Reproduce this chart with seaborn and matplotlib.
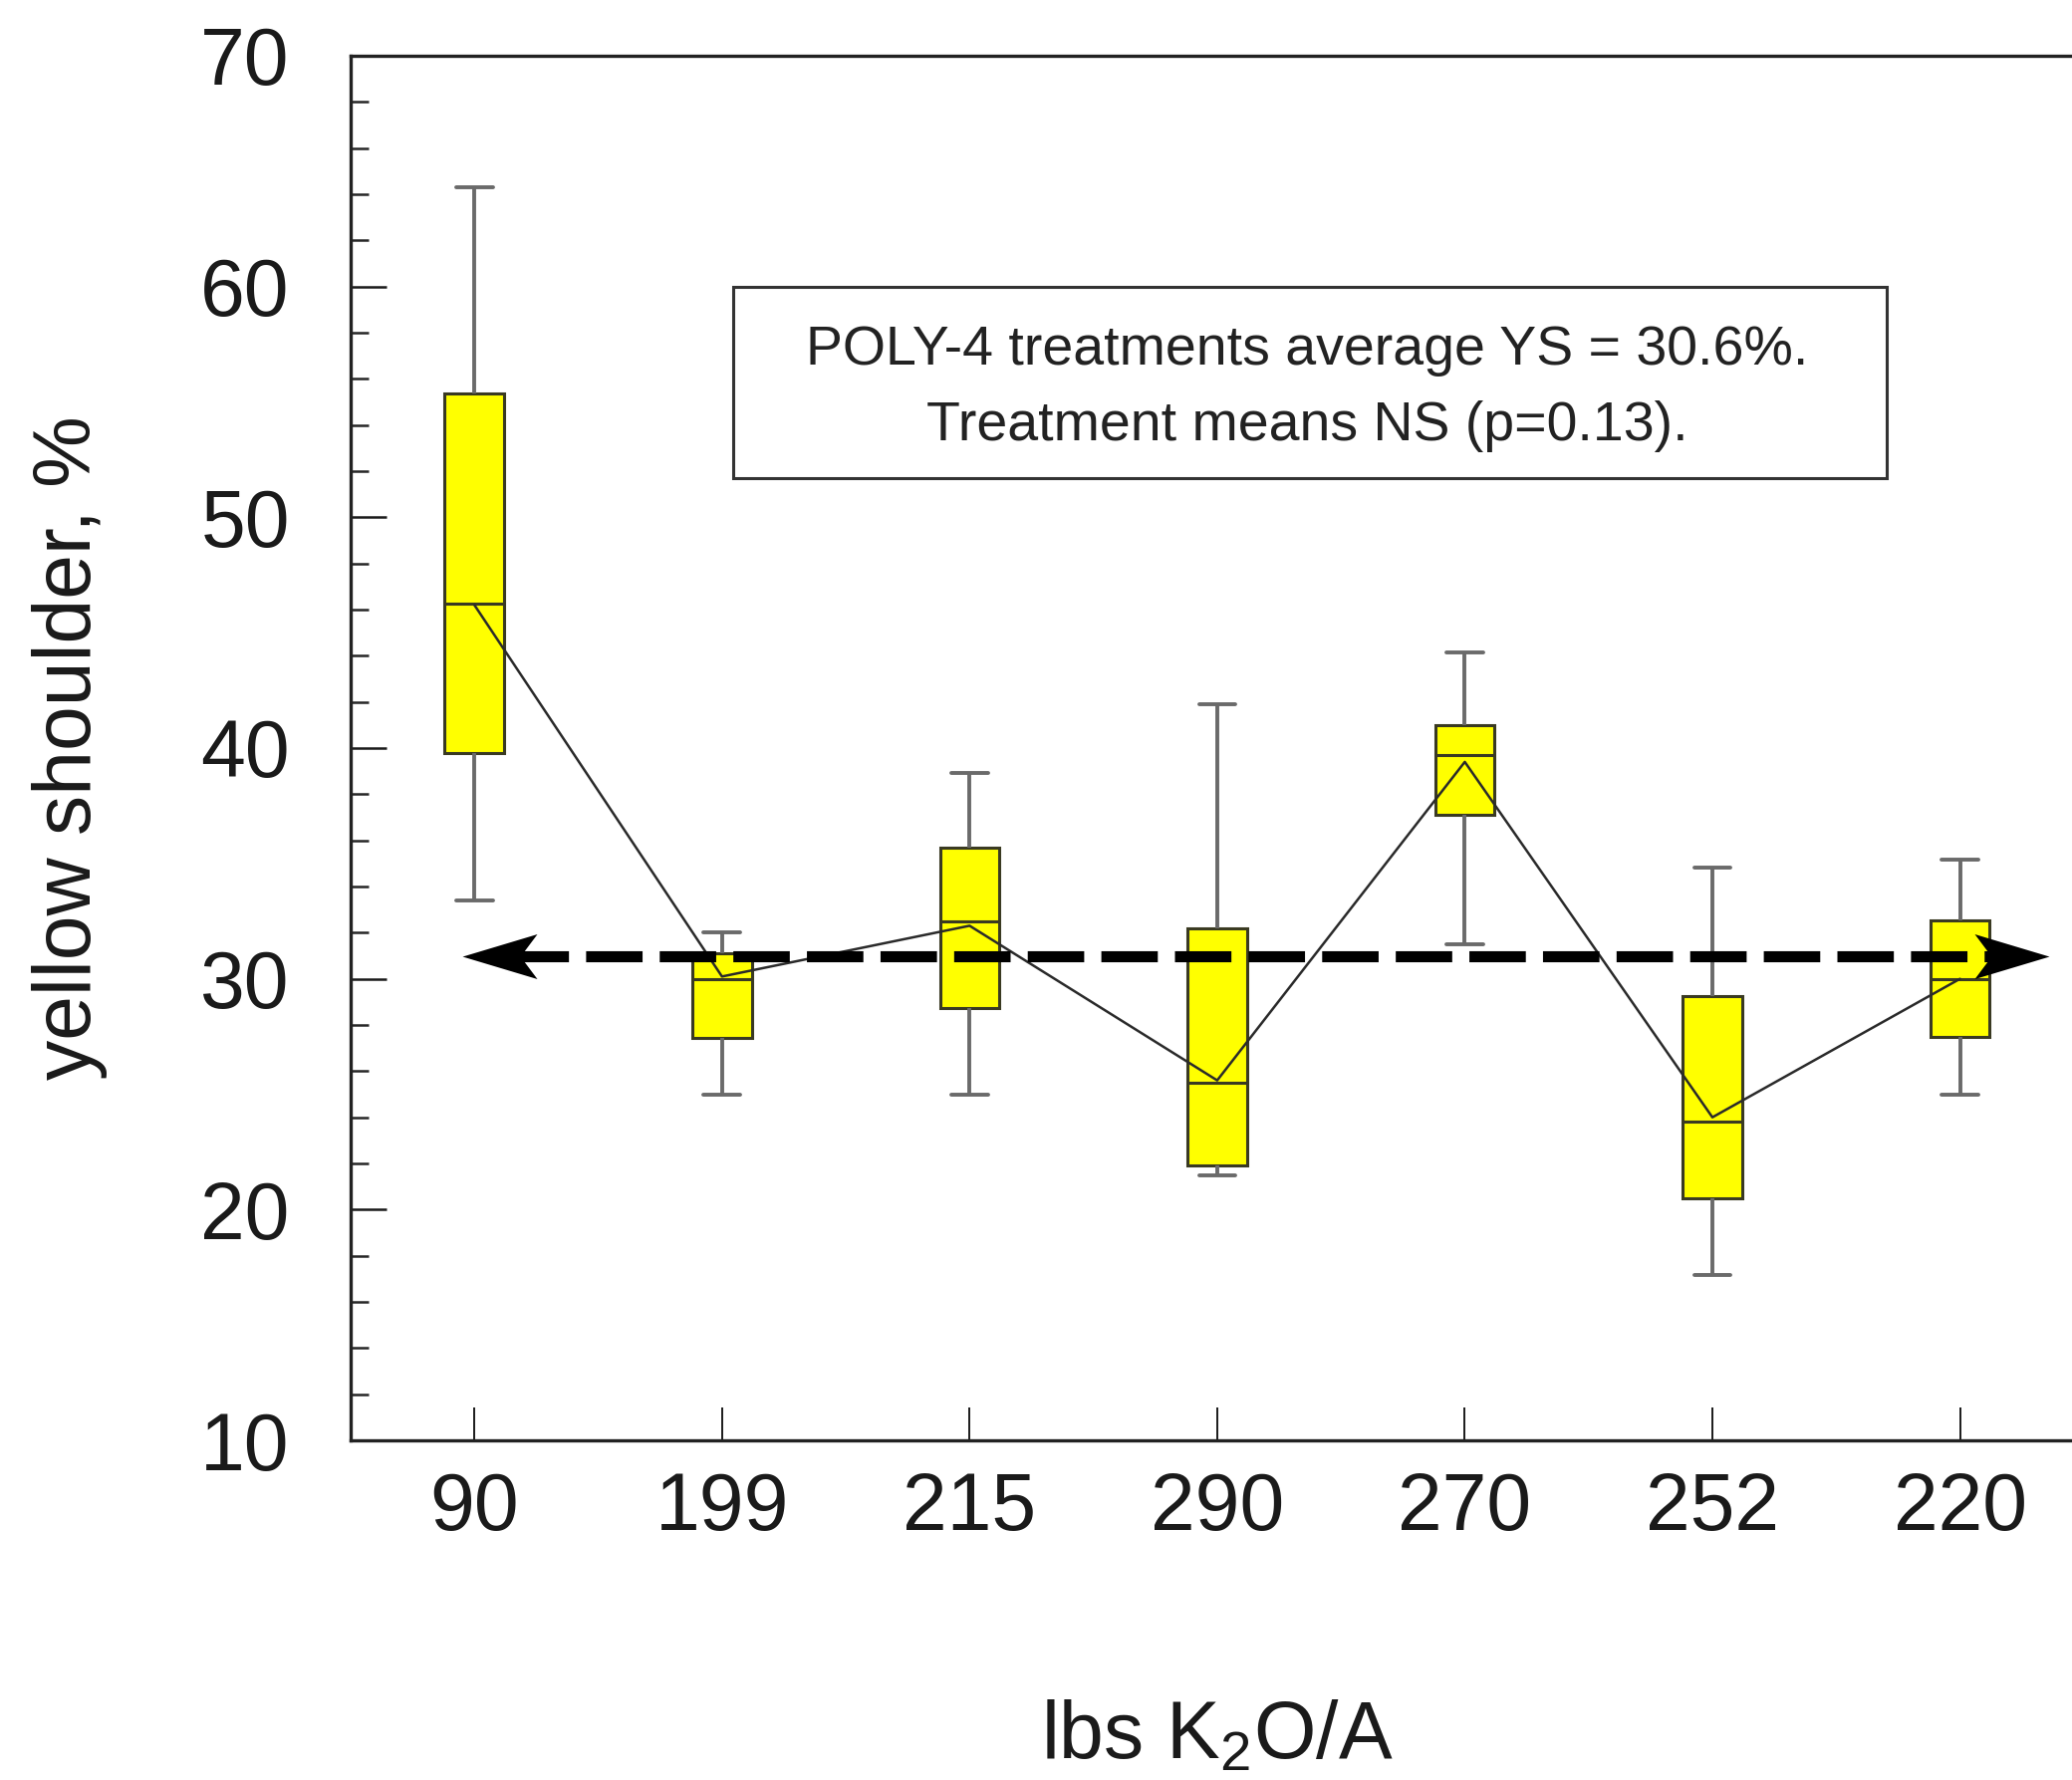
import numpy as np
import pandas as pd
import matplotlib
matplotlib.use("Agg")
import matplotlib.pyplot as plt
from matplotlib.path import Path
from matplotlib.patches import Rectangle
from matplotlib.ticker import MultipleLocator
import seaborn as sns

# ---------------- data ----------------
rates = ["90", "199", "215", "290", "270", "252", "220"]
whisker_low = [33.4, 25.0, 25.0, 21.5, 31.5, 17.15, 25.0]
q1 = [39.8, 27.45, 28.75, 21.9, 37.1, 20.5, 27.5]
medians = [46.25, 30.0, 32.5, 25.5, 39.7, 23.8, 30.0]
q3 = [55.35, 31.1, 35.7, 32.2, 41.0, 29.25, 32.55]
whisker_high = [64.3, 32.0, 38.9, 41.9, 44.15, 34.8, 35.15]
means = [46.2, 30.1, 32.3, 25.6, 39.4, 24.0, 30.0]
overall_level = 31.0
arrow_x = [-0.05, 6.36]
y_ticks = [10, 20, 30, 40, 50, 60, 70]
note_text = "POLY-4 treatments average YS = 30.6%.\nTreatment means NS (p=0.13)."

# long-form table: the five summary numbers of every treatment
rows = []
for i, r in enumerate(rates):
    for v in (whisker_low[i], q1[i], medians[i], q3[i], whisker_high[i]):
        rows.append({"rate": r, "ys": v})
df = pd.DataFrame(rows)

# ---------------- style ----------------
sns.set_style("ticks")
plt.rcParams["font.family"] = ["Liberation Sans", "DejaVu Sans"]
plt.rcParams["mathtext.default"] = "regular"

fig = plt.figure(figsize=(10.4, 8.935), dpi=200)
ax = fig.add_axes([0.1692, 0.1908, 0.8365, 0.7779])

sns.boxplot(
    data=df, x="rate", y="ys", order=rates, whis=(0, 100), width=0.24,
    color="#ffff00", saturation=1, linecolor="#3a3a22", linewidth=1.1,
    showfliers=False, capwidths=0.148,
    whiskerprops=dict(color="#6a6a6a", linewidth=1.4),
    capprops=dict(color="#6a6a6a", linewidth=1.4),
    ax=ax, zorder=2,
)

sns.pointplot(
    x=rates, y=means, order=rates, color="#2a2a2a", marker="",
    linewidth=0.9, errorbar=None, ax=ax, zorder=3,
)

# dashed overall-average line with arrow heads (shaft stops inside the heads)
head_inset = 0.2
ax.plot([arrow_x[0] + head_inset, arrow_x[1] - head_inset],
        [overall_level, overall_level], color="black", lw=4,
        dashes=(5.1, 1.55), zorder=4)
right_head = Path([(0, 0), (-2, 0.6), (-1.55, 0), (-2, -0.6), (0, 0)],
                  [Path.MOVETO, Path.LINETO, Path.LINETO, Path.LINETO, Path.CLOSEPOLY])
left_head = Path([(0, 0), (2, 0.6), (1.55, 0), (2, -0.6), (0, 0)],
                 [Path.MOVETO, Path.LINETO, Path.LINETO, Path.LINETO, Path.CLOSEPOLY])
ax.plot([arrow_x[1]], [overall_level], marker=right_head, ms=54, color="black",
        mew=0, zorder=5, linestyle="none")
ax.plot([arrow_x[0]], [overall_level], marker=left_head, ms=54, color="black",
        mew=0, zorder=5, linestyle="none")

# annotation box
ax.add_patch(Rectangle((0.2207, 0.6950), 0.6655, 0.1381, transform=ax.transAxes,
                       fill=False, lw=1.1, ec="#333333", zorder=6))
ax.text(0.552, 0.7595, note_text, transform=ax.transAxes, ha="center", va="center",
        fontsize=20, linespacing=1.6, color="#222222", zorder=7)

# axes
ax.set_xlim(-0.5, 6.5)
ax.set_ylim(10, 70)
ax.set_yticks(y_ticks)
ax.yaxis.set_minor_locator(MultipleLocator(2))
ax.tick_params(axis="y", which="major", direction="in", length=13, width=0.9,
               pad=22, labelsize=29, colors="#1a1a1a")
ax.tick_params(axis="y", which="minor", direction="in", length=6.5, width=0.9)
ax.tick_params(axis="x", which="major", direction="in", length=12, width=0.7,
               pad=11, labelsize=29, colors="#1a1a1a")
for s in ["left", "top", "bottom"]:
    ax.spines[s].set_linewidth(1.2)
    ax.spines[s].set_color("#222222")
ax.spines["right"].set_visible(False)

ax.set_xlabel("lbs K$_2$O/A", fontsize=29, color="#1a1a1a")
ax.xaxis.set_label_coords(0.5, -0.187)
ax.set_ylabel("yellow shoulder, %", fontsize=29, color="#1a1a1a")
ax.yaxis.set_label_coords(-0.140, 0.5)

fig.savefig("out.png", dpi=200)
